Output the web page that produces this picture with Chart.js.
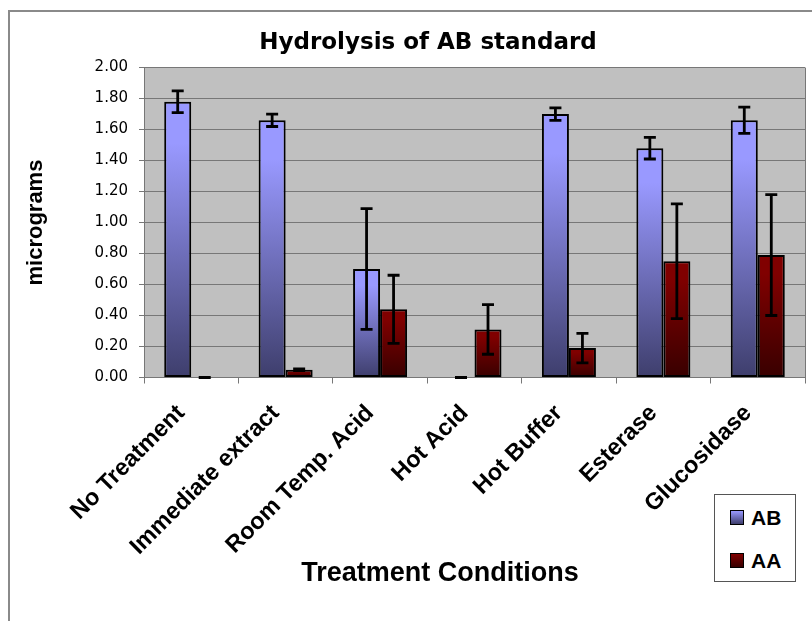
<!DOCTYPE html>
<html><head><meta charset="utf-8">
<script src="https://cdn.jsdelivr.net/npm/chart.js@4.4.1/dist/chart.umd.min.js"></script>
<style>
html,body{margin:0;padding:0;background:#fff;}
#wrap{position:relative;width:812px;height:621px;overflow:hidden;}
#frame{position:absolute;left:8px;top:10px;width:820px;height:640px;border-left:2px solid #8a8a8a;border-top:2px solid #8a8a8a;}
#chart{position:absolute;left:0;top:0;}
#legend{position:absolute;left:714px;top:494px;width:80px;height:86px;border:1px solid #555;background:#fff;font:bold 21px "Liberation Sans",Arial,sans-serif;color:#000;}
.item{position:absolute;left:15px;height:25px;display:flex;align-items:center;}
.sw{width:12px;height:13px;border:1px solid #000;margin-right:7px;}
</style></head>
<body>
<div id="wrap">
  <div id="frame"></div>
  <canvas id="chart" width="812" height="621"></canvas>
  <div id="legend"></div>
</div>
<script>
const categories = ['No Treatment', 'Immediate extract', 'Room Temp. Acid', 'Hot Acid', 'Hot Buffer', 'Esterase', 'Glucosidase'];
const abValues = [1.78, 1.66, 0.70, 0.00, 1.70, 1.48, 1.66];
const abErrors = [0.07, 0.04, 0.39, 0.00, 0.04, 0.07, 0.085];
const aaValues = [0.00, 0.05, 0.44, 0.31, 0.19, 0.75, 0.79];
const aaErrors = [0.00, 0.005, 0.22, 0.16, 0.095, 0.37, 0.39];
const yTickMin = 0, yTickMax = 2, yTickStep = 0.2;

const AB_TOP = '#9999ff', AB_BOT = '#3e3e6c';
const AA_TOP = '#800000', AA_BOT = '#380000';

function barGradient(ctx, c1, c2) {
  const chart = ctx.chart;
  if (!chart.chartArea || ctx.type !== 'data') return c1;
  const ys = chart.scales.y;
  const top = ys.getPixelForValue(ctx.raw);
  const base = ys.getPixelForValue(0);
  if (base - top < 1) return c2;
  const g = chart.ctx.createLinearGradient(0, top, 0, base);
  g.addColorStop(0, c1);
  g.addColorStop(0.15, c1);
  g.addColorStop(1, c2);
  return g;
}

const layoutHacks = {
  id: 'layoutHacks',
  afterLayout(chart) {
    if (chart.titleBlock) { chart.titleBlock.left = 28; chart.titleBlock.right = 828; }
    const s = chart.scales.x;
    if (s && !s.__wrapped) {
      const orig = s.drawTitle;
      s.drawTitle = function () {
        const L = this.left, R = this.right;
        this.left = L - 34.5; this.right = R - 34.5;
        orig.apply(this, arguments);
        this.left = L; this.right = R;
      };
      s.__wrapped = true;
    }
  }
};

const plotBg = {
  id: 'plotBg',
  beforeDraw(chart) {
    const {ctx, chartArea: a} = chart;
    ctx.save();
    ctx.fillStyle = '#c0c0c0';
    ctx.fillRect(a.left, a.top, a.right - a.left, a.bottom - a.top);
    ctx.restore();
  },
  afterDraw(chart) {
    const {ctx, chartArea: a} = chart;
    ctx.save();
    ctx.strokeStyle = '#777';
    ctx.lineWidth = 1;
    ctx.beginPath();
    ctx.moveTo(Math.round(a.right) + 0.5, a.top);
    ctx.lineTo(Math.round(a.right) + 0.5, a.bottom);
    ctx.stroke();
    ctx.restore();
  }
};

const errorBars = {
  id: 'errorBars',
  afterDatasetsDraw(chart) {
    const {ctx} = chart;
    const ys = chart.scales.y;
    ctx.save();
    ctx.strokeStyle = '#000';
    ctx.lineWidth = 2.8;
    ctx.lineCap = 'butt';
    chart.data.datasets.forEach((ds, di) => {
      const meta = chart.getDatasetMeta(di);
      meta.data.forEach((bar, i) => {
        const v = ds.data[i], e = ds.errors[i];
        const yT = ys.getPixelForValue(v + e);
        const yB = ys.getPixelForValue(Math.max(v - e, 0));
        const x = bar.x, w = 6;
        ctx.beginPath();
        ctx.moveTo(x, yT); ctx.lineTo(x, yB);
        ctx.moveTo(x - w, yT); ctx.lineTo(x + w, yT);
        ctx.moveTo(x - w, yB); ctx.lineTo(x + w, yB);
        ctx.stroke();
      });
    });
    ctx.restore();
  }
};

const chart = new Chart(document.getElementById('chart'), {
  type: 'bar',
  data: {
    labels: categories,
    datasets: [
      { label: 'AB', data: abValues, errors: abErrors,
        backgroundColor: (c) => barGradient(c, AB_TOP, AB_BOT),
        borderColor: '#000', borderWidth: 2, borderSkipped: false },
      { label: 'AA', data: aaValues, errors: aaErrors,
        backgroundColor: (c) => barGradient(c, AA_TOP, AA_BOT),
        borderColor: '#000', borderWidth: 2, borderSkipped: false }
    ]
  },
  options: {
    responsive: false,
    animation: false,
    devicePixelRatio: 1,
    layout: { padding: { left: 0, right: 7, top: 0, bottom: 0 } },
    datasets: { bar: { categoryPercentage: 0.572, barPercentage: 1 } },
    plugins: {
      legend: { display: false },
      tooltip: { enabled: false },
      title: {
        display: true,
        text: 'Hydrolysis of AB standard',
        color: '#000',
        font: { family: '"DejaVu Sans"', size: 23, weight: 'bold', lineHeight: 1.2 },
        padding: { top: 29, bottom: 11 }
      }
    },
    scales: {
      x: {
        grid: { display: true, drawOnChartArea: false, drawTicks: true, tickLength: 6, color: '#777', offset: true },
        border: { display: true, color: '#777', width: 1 },
        ticks: {
          color: '#000', maxRotation: 45, minRotation: 45, autoSkip: false,
          labelOffset: -10, padding: 16,
          font: { family: '"Liberation Sans", Arial', size: 23.5, weight: 'bold', lineHeight: 1.2 }
        },
        title: {
          display: true, text: 'Treatment Conditions', color: '#000',
          font: { family: '"Liberation Sans", Arial', size: 27, weight: 'bold', lineHeight: 1.2 },
          padding: { top: 0, bottom: 31 }
        },
        afterFit(scale) { scale.height = 243.5; }
      },
      y: {
        min: yTickMin, max: yTickMax,
        grid: { color: '#777', drawTicks: true, tickLength: 5 },
        border: { display: true, color: '#777', width: 1 },
        ticks: {
          stepSize: yTickStep, color: '#000', padding: 11,
          font: { family: '"DejaVu Sans"', size: 15 },
          callback: (v) => Number(v).toFixed(2)
        },
        title: {
          display: true, text: 'micrograms', color: '#000',
          font: { family: '"Liberation Sans", Arial', size: 22, weight: 'bold', lineHeight: 1.2 },
          padding: { top: 23, bottom: 0 }
        },
        afterFit(scale) { scale.width = 144; }
      }
    }
  },
  plugins: [layoutHacks, plotBg, errorBars]
});

// HTML legend built from the datasets
const legendEl = document.getElementById('legend');
const swatches = [[AB_TOP, AB_BOT], [AA_TOP, AA_BOT]];
chart.data.datasets.forEach((ds, i) => {
  const item = document.createElement('div');
  item.className = 'item';
  item.style.top = (i === 0 ? 10 : 53) + 'px';
  const sw = document.createElement('span');
  sw.className = 'sw';
  sw.style.background = 'linear-gradient(' + swatches[i][0] + ',' + swatches[i][1] + ')';
  const tx = document.createElement('span');
  tx.textContent = ds.label;
  item.appendChild(sw); item.appendChild(tx);
  legendEl.appendChild(item);
});
</script>
</body></html>
